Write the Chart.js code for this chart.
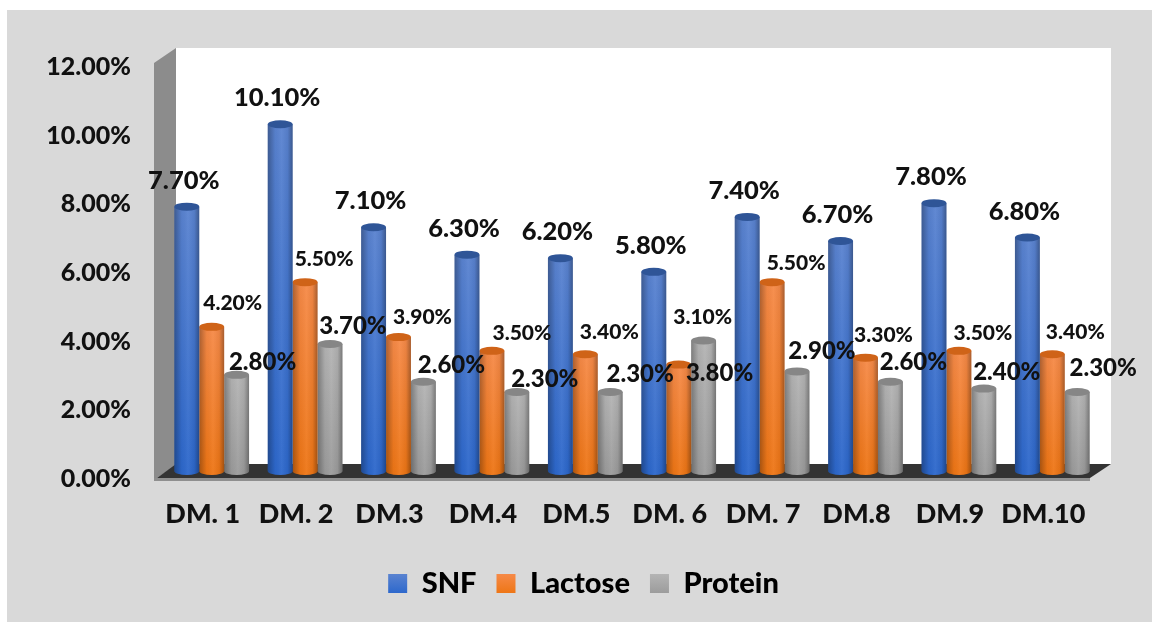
<!DOCTYPE html>
<html>
<head>
<meta charset="utf-8">
<title>SNF, Lactose, Protein</title>
<script src="https://cdn.jsdelivr.net/npm/chart.js@4"></script>
<style>
  html, body { margin: 0; padding: 0; background: #fff; overflow: hidden; }
  canvas { display: block; }
</style>
</head>
<body>
<canvas id="chartMilk" width="1152" height="622"></canvas>
<script>
/* ========== DADOS ========== */
const categorias = ['DM. 1','DM. 2','DM.3','DM.4','DM.5','DM. 6','DM. 7','DM.8','DM.9','DM.10'];
const snf     = [7.7,10.1,7.1,6.3,6.2,5.8,7.4,6.7,7.8,6.8];
const lactose = [4.2,5.5,3.9,3.5,3.4,3.1,5.5,3.3,3.5,3.4];
const protein = [2.8,3.7,2.6,2.3,2.3,3.8,2.9,2.6,2.4,2.3];

/* deslocamento dos rotulos (px, em relacao ao topo da barra) */
const labelDx = [
  [-3,-3,-3,-3,-3,-3,-3,-3,-3,-3],
  [21,19,24,30,24,24,24,18,24,23],
  [26,23,28,28,30,16,25,23,23,26]
];
const labelDy = [
  [-26,-26,-26,-26,-26,-26,-26,-26,-26,-26],
  [-24,-23,-20,-18,-22,-47,-19,-22,-18,-22],
  [-13,-18,-16,-13,-18,33,-20,-19,-16,-24]
];

const FONT = 'Lato, Carlito, sans-serif';
const WEIGHT = '900';
const TEXT = '#111111';

// cores: [topo, base, tampa]
const cores = [
  ['#5a83d0','#2d68cc','#2f5597'],
  ['#f68a48','#ee7616','#cf6318'],
  ['#b4b4b4','#9c9c9c','#868686']
];
const labelFonts = [25.5, 21, 24];

/* ========== PLUGINS ========== */

// paredes e piso do grafico 3D
const walls = {
  id: 'walls',
  afterLayout(chart){
    // legenda fica um pouco a direita do centro
    chart.legend.left += 34;
    chart.legend.right += 34;
  },
  beforeDraw(chart){
    const { ctx, chartArea: a } = chart;
    const poly = (color, pts) => {
      ctx.fillStyle = color;
      ctx.beginPath();
      pts.forEach((p, i) => i ? ctx.lineTo(p[0], p[1]) : ctx.moveTo(p[0], p[1]));
      ctx.closePath();
      ctx.fill();
    };
    ctx.save();
    // fundo
    ctx.fillStyle = '#ffffff';
    ctx.fillRect(0, 0, chart.width, chart.height);
    ctx.fillStyle = '#d9d9d9';
    ctx.fillRect(7, 10, chart.width - 7, chart.height - 10);
    // parede de tras
    poly('#ffffff', [[a.left+11,a.top-11],[a.right+12,a.top-11],[a.right+12,a.bottom-7],[a.left+11,a.bottom-7]]);
    // parede lateral
    poly('#8c8c8c', [[a.left-11,a.top+4],[a.left+11,a.top-11],[a.left+11,a.bottom-6],[a.left-8,a.bottom+7],[a.left-11,a.bottom+9]]);
    // piso
    poly('#8f8f8f', [[a.left-11,a.bottom+7],[a.right-9,a.bottom+7],[a.right-9,a.bottom+10],[a.left-11,a.bottom+10]]);
    poly('#333333', [[a.left-8,a.bottom+7],[a.left+11,a.bottom-7],[a.right+12,a.bottom-7],[a.right-9,a.bottom+7]]);
    ctx.restore();
  }
};

// desenha cada barra como cilindro
const cylinders = {
  id: 'cylinders',
  beforeDatasetDraw(chart, args){
    const { ctx } = chart;
    const c = cores[args.index];
    args.meta.data.forEach(bar => {
      const w = bar.width, x0 = bar.x - w/2, x1 = bar.x + w/2;
      const ry = 4;
      const body = () => {
        ctx.beginPath();
        ctx.moveTo(x0, bar.y);
        ctx.lineTo(x0, bar.base);
        ctx.ellipse(bar.x, bar.base, w/2, ry, 0, Math.PI, 0, true);
        ctx.lineTo(x1, bar.y);
        ctx.closePath();
      };
      ctx.save();
      const gv = ctx.createLinearGradient(0, bar.y, 0, bar.base);
      gv.addColorStop(0, c[0]);
      gv.addColorStop(1, c[1]);
      body();
      ctx.fillStyle = gv;
      ctx.fill();
      const gh = ctx.createLinearGradient(x0, 0, x1, 0);
      gh.addColorStop(0, 'rgba(0,0,0,0.30)');
      gh.addColorStop(0.3, 'rgba(0,0,0,0.03)');
      gh.addColorStop(0.55, 'rgba(255,255,255,0.05)');
      gh.addColorStop(0.8, 'rgba(0,0,0,0.05)');
      gh.addColorStop(1, 'rgba(0,0,0,0.32)');
      body();
      ctx.fillStyle = gh;
      ctx.fill();
      // tampa
      ctx.beginPath();
      ctx.ellipse(bar.x, bar.y, w/2, ry, 0, 0, Math.PI*2);
      ctx.fillStyle = c[2];
      ctx.fill();
      ctx.restore();
    });
    return false;
  }
};

// rotulos de valor
const valueLabels = {
  id: 'valueLabels',
  afterDatasetsDraw(chart){
    const { ctx } = chart;
    ctx.save();
    ctx.textAlign = 'center';
    ctx.textBaseline = 'middle';
    ctx.fillStyle = TEXT;
    chart.data.datasets.forEach((ds, d) => {
      ctx.font = `${WEIGHT} ${labelFonts[d]}px ${FONT}`;
      chart.getDatasetMeta(d).data.forEach((bar, i) => {
        ctx.fillText(ds.data[i].toFixed(2) + '%', bar.x + labelDx[d][i], bar.y + labelDy[d][i]);
      });
    });
    ctx.restore();
  }
};

/* ========== CHART ========== */

const ctxM = document.getElementById('chartMilk').getContext('2d');

new Chart(ctxM, {
  type: 'bar',
  data: {
    labels: categorias,
    datasets: [
      { label: 'SNF', data: snf, backgroundColor: cores[0][1] },
      { label: 'Lactose', data: lactose, backgroundColor: cores[1][1] },
      { label: 'Protein', data: protein, backgroundColor: cores[2][1] }
    ]
  },
  plugins: [walls, cylinders, valueLabels],
  options: {
    responsive: false,
    animation: false,
    layout: { padding: { left: 0, top: 59, right: 53, bottom: 14 } },
    datasets: { bar: { categoryPercentage: 0.8, barPercentage: 1 } },
    plugins: {
      tooltip: { enabled: false },
      legend: {
        position: 'bottom',
        labels: {
          boxWidth: 19,
          boxHeight: 19,
          padding: 20,
          color: TEXT,
          font: { family: FONT, size: 29, weight: WEIGHT },
          generateLabels(chart){
            return chart.data.datasets.map((ds, i) => {
              const g = chart.ctx.createLinearGradient(0, 574, 0, 593);
              g.addColorStop(0, cores[i][0]);
              g.addColorStop(1, cores[i][1]);
              return { text: ds.label, fillStyle: g, strokeStyle: 'transparent', lineWidth: 0, datasetIndex: i, hidden: false };
            });
          }
        }
      }
    },
    scales: {
      x: {
        grid: { display: false, drawTicks: false },
        border: { display: false },
        afterFit(s){ s.height = 78; },
        ticks: {
          color: TEXT,
          autoSkip: false,
          maxRotation: 0,
          padding: 27,
          labelOffset: -9,
          font: { family: FONT, size: 27, weight: WEIGHT }
        }
      },
      y: {
        min: 0,
        max: 12,
        grid: { display: false, drawTicks: false },
        border: { display: false },
        afterFit(s){ s.width = 165; },
        ticks: {
          stepSize: 2,
          color: TEXT,
          padding: 34,
          labelOffset: 8,
          font: { family: FONT, size: 25, weight: WEIGHT },
          callback: v => v.toFixed(2) + '%'
        }
      }
    }
  }
});
</script>
</body>
</html>
